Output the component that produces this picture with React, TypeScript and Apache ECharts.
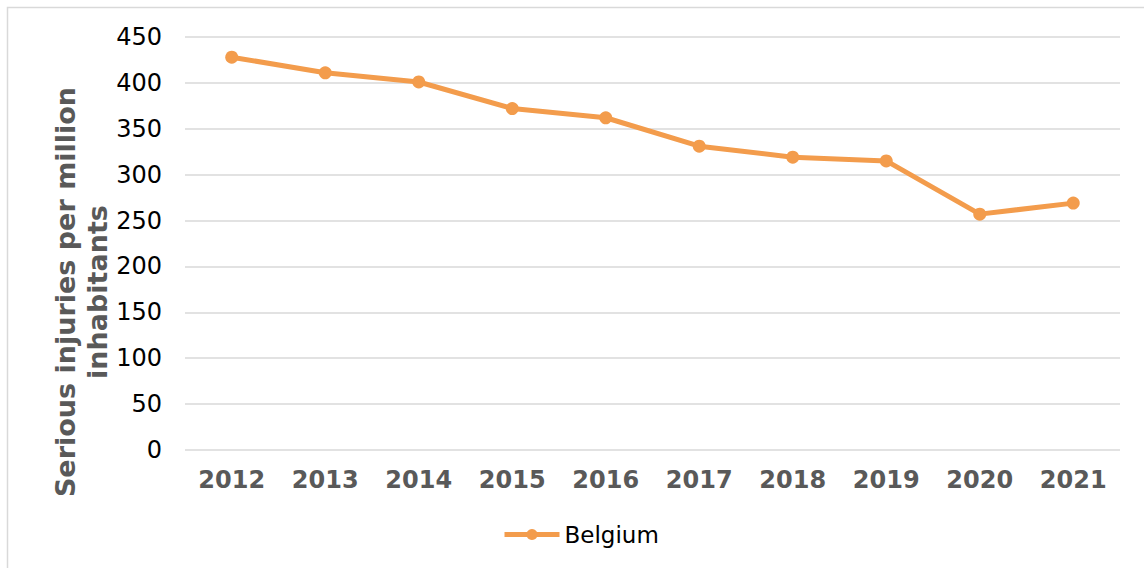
import React, { useEffect, useRef } from "react";
import * as echarts from "echarts";

const years = ["2012", "2013", "2014", "2015", "2016", "2017", "2018", "2019", "2020", "2021"];
const belgium = [428, 411, 401, 372, 362, 331, 319, 315, 257, 269];
const seriesName = "Belgium";
const axisTitle = "Serious injuries per million\ninhabitants";

export default function App() {
  const ref = useRef<HTMLDivElement>(null);
  useEffect(() => {
    if (!ref.current) return;
    const chart = echarts.init(ref.current, undefined, { renderer: "svg" });
    chart.setOption({
      animation: false,
      backgroundColor: "#ffffff",
      textStyle: { fontFamily: "DejaVu Sans" },
      grid: { left: 185, right: 24, top: 37, bottom: 118, containLabel: false },
      graphic: [
        {
          type: "rect",
          shape: { x: 7.5, y: 7.5, width: 1150, height: 580 },
          style: { fill: "none", stroke: "#d9d9d9", lineWidth: 1.5 },
          silent: true,
        },
        {
          type: "text",
          x: 81,
          y: 292,
          rotation: Math.PI / 2,
          style: {
            text: axisTitle,
            fontFamily: "DejaVu Sans",
            fontSize: 27,
            fontWeight: "bold",
            fill: "#595959",
            align: "center",
            verticalAlign: "middle",
            lineHeight: 32,
          },
        },
      ],
      legend: {
        data: [seriesName],
        left: 497,
        top: 518,
        itemWidth: 55,
        itemHeight: 14,
        itemGap: 6,
        lineStyle: { width: 5 },
        itemStyle: { borderWidth: 0 },
        textStyle: { fontSize: 23, color: "#000000", fontFamily: "DejaVu Sans" },
      },
      xAxis: {
        type: "category",
        data: years,
        boundaryGap: true,
        axisLine: { show: false },
        axisTick: { show: false },
        axisLabel: {
          fontSize: 24,
          fontWeight: "bold",
          color: "#595959",
          margin: 18,
          fontFamily: "DejaVu Sans",
        },
      },
      yAxis: {
        type: "value",
        min: 0,
        max: 450,
        interval: 50,
        axisLine: { show: false },
        axisTick: { show: false },
        axisLabel: { fontSize: 24, color: "#000000", margin: 23, fontFamily: "DejaVu Sans" },
        splitLine: { lineStyle: { color: "#d9d9d9", width: 1.5 } },
      },
      series: [
        {
          name: seriesName,
          type: "line",
          data: belgium,
          symbol: "circle",
          symbolSize: 13,
          lineStyle: { color: "#F39C4C", width: 5 },
          itemStyle: { color: "#F39C4C" },
        },
      ],
    });
    return () => chart.dispose();
  }, []);
  return (
    <div
      ref={ref}
      style={{ position: "fixed", left: 0, top: 0, width: 1144, height: 568 }}
    />
  );
}
